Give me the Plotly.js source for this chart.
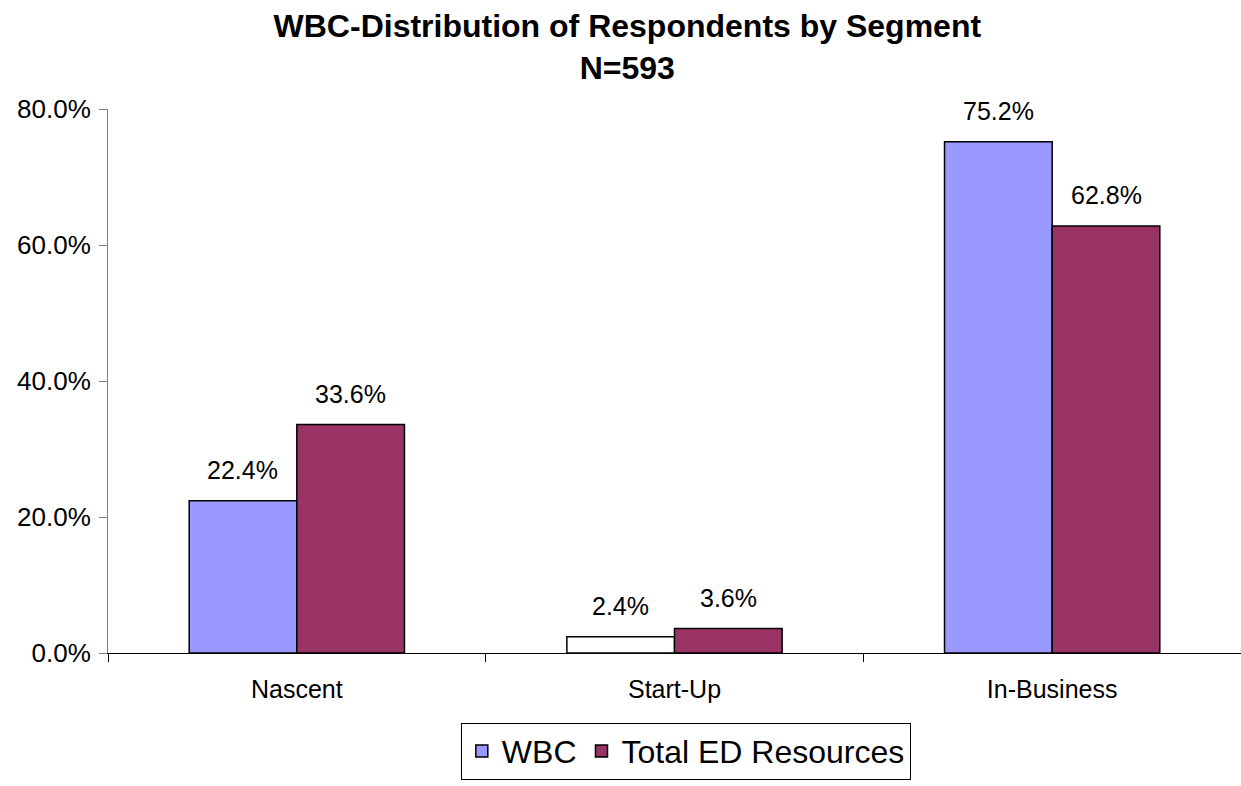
<!DOCTYPE html>
<html>
<head>
<meta charset="utf-8">
<script src="https://cdn.plot.ly/plotly-3.0.1.min.js"></script>
<style>html,body{margin:0;padding:0;background:#fff;}#chart{width:1241px;height:786px;}</style>
</head>
<body>
<div id="chart"></div>
<script>
var categories = ["Nascent", "Start-Up", "In-Business"];
var wbcValues = [22.4, 2.4, 75.2];
var totalValues = [33.6, 3.6, 62.8];
var seriesNames = ["WBC", "Total ED Resources"];
var yTickValues = [0, 20, 40, 60, 80];

var wbcColors = ["#9999FF", "#FFFFFF", "#9999FF"];
var font = "Liberation Sans, Arial, sans-serif";

var traces = [
  {
    type: "bar", name: seriesNames[0], x: categories, y: wbcValues,
    marker: {color: wbcColors, line: {color: "#000000", width: 1.5}},
    hoverinfo: "skip"
  },
  {
    type: "bar", name: seriesNames[1], x: categories, y: totalValues,
    marker: {color: "#993366", line: {color: "#000000", width: 1.5}},
    hoverinfo: "skip"
  }
];

var annotations = [];
categories.forEach(function (c, i) {
  annotations.push({x: c, y: wbcValues[i], text: wbcValues[i].toFixed(1) + "%", xref: "x", yref: "y",
    xshift: -54, yshift: 31, showarrow: false, font: {family: font, size: 25, color: "#000"}});
  annotations.push({x: c, y: totalValues[i], text: totalValues[i].toFixed(1) + "%", xref: "x", yref: "y",
    xshift: 54, yshift: 31, showarrow: false, font: {family: font, size: 25, color: "#000"}});
});

var layout = {
  width: 1241, height: 786,
  margin: {l: 108, r: 0, t: 109, b: 133},
  paper_bgcolor: "#ffffff", plot_bgcolor: "#ffffff",
  font: {family: font, color: "#000"},
  title: {
    text: "<b>WBC-Distribution of Respondents by Segment</b><br><b>N=593</b>",
    x: 0.5055, xanchor: "center", yref: "container", y: 0.953, yanchor: "middle",
    font: {family: font, size: 32, color: "#000"}
  },
  barmode: "group",
  bargap: 0.43,
  bargroupgap: 0,
  xaxis: {
    showline: true, linecolor: "#000", linewidth: 1,
    ticks: "outside", tickson: "boundaries", ticklen: 8, tickcolor: "#000",
    tickfont: {family: font, size: 25, color: "#000"},
    ticklabelstandoff: 14,
    showgrid: false, zeroline: false
  },
  yaxis: {
    range: [0, 80], tickvals: yTickValues,
    ticktext: yTickValues.map(function (v) { return v.toFixed(1) + "%"; }),
    showline: true, linecolor: "#808080", linewidth: 1,
    ticks: "outside", ticklen: 8, tickcolor: "#808080",
    tickfont: {family: font, size: 26, color: "#000"},
    ticklabelstandoff: 3,
    showgrid: false, zeroline: false
  },
  showlegend: true,
  legend: {
    orientation: "h", x: 0.51, xanchor: "center", y: -0.128, yanchor: "top",
    font: {family: font, size: 32, color: "#000"},
    bordercolor: "#000", borderwidth: 1, bgcolor: "#fff",
    itemwidth: 30
  },
  annotations: annotations
};

Plotly.newPlot("chart", traces, layout, {staticPlot: true, displayModeBar: false});
</script>
</body>
</html>
